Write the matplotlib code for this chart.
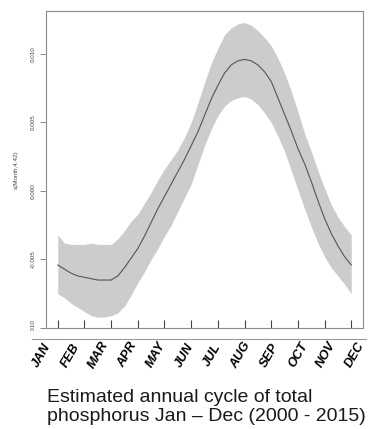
import matplotlib

matplotlib.use("Agg")
import matplotlib.pyplot as plt


MONTH_NAMES = ['JAN', 'FEB', 'MAR', 'APR', 'MAY', 'JUN', 'JUL', 'AUG',
               'SEP', 'OCT', 'NOV', 'DEC']
MONTHS = [1, 2, 3, 4, 5, 6, 7, 8, 9, 10, 11, 12]
# curve every quarter month
MONTH_GRID = [1.0, 1.25, 1.5, 1.75, 2.0, 2.25, 2.5, 2.75, 3.0, 3.25, 3.5,
              3.75, 4.0, 4.25, 4.5, 4.75, 5.0, 5.25, 5.5, 5.75, 6.0, 6.25,
              6.5, 6.75, 7.0, 7.25, 7.5, 7.75, 8.0, 8.25, 8.5, 8.75, 9.0,
              9.25, 9.5, 9.75, 10.0, 10.25, 10.5, 10.75, 11.0, 11.25, 11.5,
              11.75, 12.0]
FIT = [-0.0054, -0.0057, -0.0060, -0.0062, -0.0063, -0.0064, -0.0065,
       -0.0065, -0.0065, -0.0062, -0.0056, -0.0049, -0.0042, -0.0033,
       -0.0023, -0.0013, -0.0004, 0.0005, 0.0014, 0.0023, 0.0033, 0.0043,
       0.0055, 0.0067, 0.0077, 0.0086, 0.0092, 0.0095, 0.0096, 0.0095,
       0.0092, 0.0087, 0.0080, 0.0068, 0.0056, 0.0044, 0.0031, 0.0020,
       0.0007, -0.0007, -0.0020, -0.0031, -0.0040, -0.0048, -0.0054]
UPPER = [-0.0032, -0.0038, -0.0039, -0.0039, -0.0039, -0.0038, -0.0039,
         -0.0039, -0.0039, -0.0035, -0.0029, -0.0022, -0.0017, -0.0009,
         -0.0001, 0.0008, 0.0016, 0.0023, 0.0030, 0.0039, 0.0050, 0.0064,
         0.0079, 0.0093, 0.0104, 0.0114, 0.0119, 0.0122, 0.0123, 0.0121,
         0.0117, 0.0112, 0.0106, 0.0097, 0.0086, 0.0073, 0.0058, 0.0042,
         0.0029, 0.0015, 0.0002, -0.0010, -0.0019, -0.0026, -0.0032]
LOWER = [-0.0075, -0.0078, -0.0082, -0.0085, -0.0088, -0.0091, -0.0092,
         -0.0092, -0.0091, -0.0089, -0.0084, -0.0076, -0.0067, -0.0059,
         -0.0050, -0.0042, -0.0033, -0.0025, -0.0015, -0.0005, 0.0005,
         0.0019, 0.0033, 0.0045, 0.0055, 0.0062, 0.0066, 0.0068, 0.0069,
         0.0067, 0.0063, 0.0057, 0.0050, 0.0040, 0.0029, 0.0015, 0.0001,
         -0.0013, -0.0026, -0.0038, -0.0048, -0.0056, -0.0062, -0.0068,
         -0.0075]
Y_TICKS = [-0.010, -0.005, 0.000, 0.005, 0.010]
Y_TICK_LABELS = ['-0.010', '-0.005', '0.000', '0.005', '0.010']
CAPTION = "Estimated annual cycle of total\nphosphorus Jan \u2013 Dec (2000 - 2015)"

plt.rcParams['font.family'] = ['Liberation Sans', 'DejaVu Sans']

W, H = 368, 429
fig = plt.figure(figsize=(W / 100, H / 100), dpi=100)

ax = fig.add_axes([46 / W, (H - 328) / H, 317 / W, 316.5 / H])
ax.fill_between(MONTH_GRID, LOWER, UPPER, color='#cccccc', lw=0)
ax.plot(MONTH_GRID, FIT, color='#555555', lw=0.8)
ax.set_xlim(0.56, 12.44)
ax.set_ylim(-0.0100, 0.0131)

for sp in ax.spines.values():
    sp.set_color('#8c8c8c')
    sp.set_linewidth(0.8)

# rug of observation months
ax.set_xticks(MONTHS)
ax.tick_params(axis='x', direction='in', length=5.5, width=0.8,
               color='#444444', labelbottom=False)
ax.set_yticks(Y_TICKS)
ax.set_yticklabels(Y_TICK_LABELS, rotation=90, va='center')
ax.tick_params(axis='y', length=4, width=0.6, color='#777777',
               labelsize=4.5, labelcolor='#444444', pad=3.2)
ax.set_ylabel("s(Month,4.42)", fontsize=4.5, color='#444444')
ax.yaxis.set_label_coords(-0.085, 0.5)

# month labels strip (white, covers the bottom of the plot image)
ax2 = fig.add_axes([0, (H - 372) / H, 1, (372 - 331) / H])
ax2.set_xlim(-0.476, 12.459)
ax2.set_ylim(0, 1)
ax2.axis('off')
ax2.add_patch(plt.Rectangle((0, 0), 1, 1, transform=ax2.transAxes,
                            color='white', zorder=0))
ax2.axhline((372 - 339) / (372 - 331), xmin=32 / W, xmax=366 / W,
            color='#9a9a9a', lw=0.8)
for m, name in zip(MONTHS, MONTH_NAMES):
    ax2.text(m, (372 - 355) / (372 - 331), name, rotation=60,
             ha='center', va='center', fontsize=9.2, fontweight='bold',
             fontstyle='italic', color='black')

# va='baseline' puts the last line's baseline at y
fig.text(47 / W, (H - 421) / H, CAPTION, ha='left', va='baseline',
         fontsize=14.0, linespacing=1.16, color='#1a1a1a')

fig.savefig("out.png", dpi=100)
